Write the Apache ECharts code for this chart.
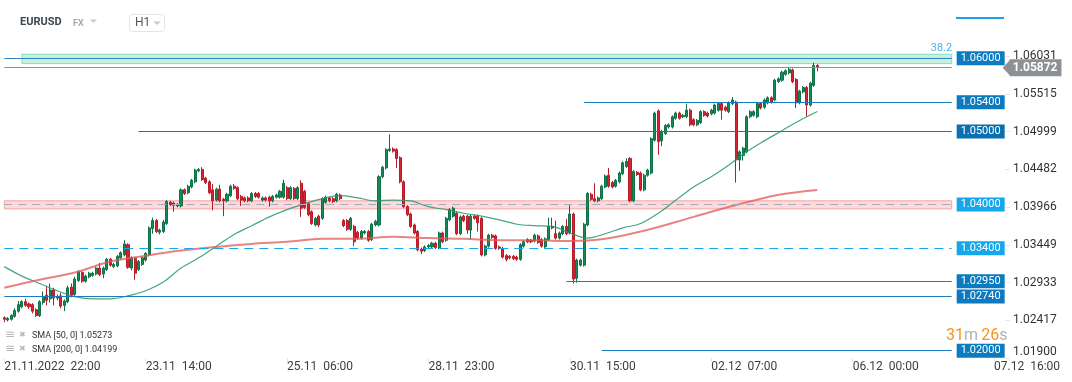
<!DOCTYPE html>
<html><head><meta charset="utf-8">
<script src="https://cdn.jsdelivr.net/npm/echarts@6/dist/echarts.min.js"></script>
<style>html,body{margin:0;padding:0;background:#fff}#c{width:1072px;height:382px}</style>
</head><body><div id="c"></div><script>
// ---- data (EURUSD H1) ----
const OPEN = [
1.0245,1.0242,1.0243,1.0247,1.0254,1.0260,1.0267,1.0264,1.0263,1.0256,
1.0248,1.0266,1.0276,1.0271,1.0283,1.0272,1.0275,1.0262,1.0267,1.0287,
1.0277,1.0296,1.0307,1.0295,1.0301,1.0303,1.0305,1.0313,1.0305,1.0311,
1.0325,1.0315,1.0316,1.0327,1.0331,1.0345,1.0313,1.0326,1.0311,1.0318,
1.0324,1.0331,1.0367,1.0378,1.0362,1.0363,1.0374,1.0403,1.0402,1.0398,
1.0398,1.0420,1.0416,1.0424,1.0431,1.0446,1.0448,1.0436,1.0431,1.0420,
1.0406,1.0421,1.0407,1.0405,1.0412,1.0425,1.0423,1.0411,1.0409,1.0409,
1.0405,1.0415,1.0415,1.0406,1.0409,1.0410,1.0405,1.0410,1.0410,1.0410,
1.0423,1.0408,1.0422,1.0408,1.0429,1.0418,1.0401,1.0390,1.0372,1.0384,
1.0381,1.0403,1.0409,1.0408,1.0405,1.0413,1.0378,1.0378,1.0366,1.0370,
1.0362,1.0354,1.0361,1.0363,1.0352,1.0372,1.0372,1.0438,1.0450,1.0474,
1.0476,1.0475,1.0464,1.0431,1.0397,1.0387,1.0372,1.0363,1.0339,1.0337,
1.0342,1.0342,1.0347,1.0341,1.0361,1.0351,1.0379,1.0384,1.0388,1.0360,
1.0384,1.0384,1.0365,1.0384,1.0384,1.0381,1.0331,1.0343,1.0358,1.0357,
1.0342,1.0340,1.0330,1.0329,1.0329,1.0328,1.0325,1.0343,1.0352,1.0351,
1.0350,1.0357,1.0352,1.0342,1.0352,1.0370,1.0360,1.0354,1.0360,1.0370,
1.0361,1.0387,1.0299,1.0317,1.0317,1.0372,1.0414,1.0408,1.0405,1.0408,
1.0424,1.0440,1.0430,1.0425,1.0431,1.0442,1.0452,1.0463,1.0405,1.0444,
1.0443,1.0420,1.0440,1.0443,1.0488,1.0528,1.0487,1.0497,1.0506,1.0506,
1.0518,1.0525,1.0520,1.0520,1.0529,1.0516,1.0509,1.0512,1.0527,1.0525,
1.0524,1.0525,1.0529,1.0538,1.0533,1.0527,1.0538,1.0540,1.0461,1.0467,
1.0472,1.0520,1.0522,1.0520,1.0538,1.0533,1.0539,1.0546,1.0543,1.0568,
1.0570,1.0578,1.0580,1.0584,1.0571,1.0539,1.0554,1.0560,1.0536,1.0563,
1.0590];
const CLOSE = [
1.0243,1.0244,1.0248,1.0255,1.0263,1.0267,1.0262,1.0260,1.0254,1.0248,
1.0267,1.0273,1.0269,1.0283,1.0272,1.0274,1.0261,1.0268,1.0286,1.0276,
1.0298,1.0308,1.0295,1.0302,1.0306,1.0306,1.0313,1.0304,1.0313,1.0325,
1.0317,1.0318,1.0329,1.0334,1.0346,1.0314,1.0327,1.0306,1.0322,1.0327,
1.0333,1.0368,1.0378,1.0363,1.0365,1.0376,1.0404,1.0400,1.0399,1.0400,
1.0420,1.0415,1.0425,1.0433,1.0447,1.0448,1.0434,1.0430,1.0416,1.0405,
1.0421,1.0405,1.0405,1.0414,1.0425,1.0422,1.0408,1.0406,1.0405,1.0405,
1.0415,1.0411,1.0410,1.0409,1.0406,1.0405,1.0411,1.0413,1.0418,1.0429,
1.0408,1.0423,1.0408,1.0423,1.0395,1.0396,1.0386,1.0374,1.0381,1.0372,
1.0408,1.0410,1.0405,1.0404,1.0414,1.0408,1.0371,1.0366,1.0381,1.0349,
1.0354,1.0363,1.0363,1.0351,1.0373,1.0377,1.0438,1.0451,1.0475,1.0476,
1.0473,1.0463,1.0431,1.0397,1.0386,1.0370,1.0361,1.0338,1.0336,1.0342,
1.0344,1.0347,1.0341,1.0361,1.0349,1.0381,1.0393,1.0395,1.0360,1.0383,
1.0378,1.0365,1.0384,1.0381,1.0375,1.0331,1.0343,1.0358,1.0355,1.0340,
1.0340,1.0328,1.0325,1.0327,1.0326,1.0325,1.0345,1.0349,1.0349,1.0349,
1.0358,1.0348,1.0343,1.0353,1.0370,1.0368,1.0354,1.0361,1.0370,1.0360,
1.0387,1.0298,1.0324,1.0324,1.0373,1.0415,1.0407,1.0405,1.0409,1.0425,
1.0439,1.0425,1.0424,1.0433,1.0443,1.0457,1.0459,1.0405,1.0445,1.0441,
1.0420,1.0440,1.0447,1.0490,1.0525,1.0486,1.0500,1.0508,1.0509,1.0520,
1.0525,1.0518,1.0522,1.0529,1.0509,1.0509,1.0515,1.0527,1.0522,1.0521,
1.0529,1.0536,1.0538,1.0529,1.0529,1.0539,1.0543,1.0461,1.0472,1.0477,
1.0520,1.0527,1.0527,1.0538,1.0532,1.0543,1.0546,1.0540,1.0570,1.0572,
1.0581,1.0583,1.0585,1.0568,1.0539,1.0555,1.0560,1.0536,1.0566,1.0590,
1.05872];
const LOW = [
1.0239,1.0240,1.0241,1.0245,1.0252,1.0258,1.0260,1.0257,1.0251,1.0246,
1.0246,1.0263,1.0262,1.0266,1.0262,1.0269,1.0258,1.0254,1.0265,1.0273,
1.0275,1.0294,1.0293,1.0293,1.0299,1.0301,1.0303,1.0302,1.0299,1.0309,
1.0315,1.0313,1.0314,1.0325,1.0329,1.0312,1.0310,1.0297,1.0309,1.0316,
1.0322,1.0329,1.0360,1.0361,1.0359,1.0361,1.0372,1.0398,1.0390,1.0396,
1.0396,1.0413,1.0414,1.0422,1.0429,1.0444,1.0432,1.0428,1.0414,1.0392,
1.0404,1.0403,1.0384,1.0403,1.0410,1.0420,1.0406,1.0398,1.0403,1.0403,
1.0403,1.0409,1.0408,1.0404,1.0404,1.0397,1.0403,1.0408,1.0408,1.0408,
1.0406,1.0406,1.0406,1.0406,1.0383,1.0394,1.0384,1.0372,1.0370,1.0369,
1.0379,1.0401,1.0403,1.0402,1.0403,1.0406,1.0369,1.0364,1.0364,1.0343,
1.0352,1.0352,1.0359,1.0349,1.0350,1.0370,1.0370,1.0436,1.0448,1.0472,
1.0471,1.0450,1.0429,1.0395,1.0384,1.0368,1.0359,1.0336,1.0332,1.0335,
1.0340,1.0340,1.0339,1.0339,1.0347,1.0349,1.0377,1.0382,1.0358,1.0358,
1.0376,1.0360,1.0352,1.0379,1.0363,1.0329,1.0329,1.0341,1.0353,1.0338,
1.0338,1.0326,1.0322,1.0325,1.0324,1.0323,1.0323,1.0341,1.0347,1.0347,
1.0348,1.0346,1.0341,1.0340,1.0350,1.0366,1.0352,1.0352,1.0358,1.0358,
1.0359,1.0292,1.0293,1.0315,1.0315,1.0370,1.0405,1.0403,1.0403,1.0406,
1.0422,1.0423,1.0422,1.0423,1.0429,1.0440,1.0450,1.0403,1.0403,1.0439,
1.0418,1.0418,1.0438,1.0441,1.0486,1.0468,1.0480,1.0495,1.0504,1.0504,
1.0516,1.0516,1.0518,1.0518,1.0507,1.0507,1.0507,1.0510,1.0520,1.0519,
1.0522,1.0523,1.0527,1.0516,1.0527,1.0525,1.0536,1.0430,1.0446,1.0460,
1.0470,1.0518,1.0520,1.0518,1.0530,1.0531,1.0537,1.0538,1.0541,1.0566,
1.0568,1.0576,1.0578,1.0566,1.0532,1.0537,1.0552,1.0520,1.0534,1.0561,
1.0582];
const HIGH = [
1.0247,1.0246,1.0250,1.0258,1.0268,1.0269,1.0271,1.0266,1.0265,1.0258,
1.0269,1.0281,1.0288,1.0292,1.0286,1.0277,1.0279,1.0270,1.0289,1.0292,
1.0301,1.0310,1.0309,1.0304,1.0308,1.0308,1.0315,1.0320,1.0315,1.0327,
1.0327,1.0320,1.0331,1.0336,1.0351,1.0347,1.0329,1.0328,1.0324,1.0329,
1.0335,1.0370,1.0382,1.0380,1.0367,1.0379,1.0406,1.0405,1.0404,1.0402,
1.0422,1.0422,1.0427,1.0435,1.0449,1.0450,1.0451,1.0438,1.0433,1.0428,
1.0423,1.0427,1.0409,1.0416,1.0427,1.0428,1.0425,1.0413,1.0411,1.0411,
1.0417,1.0417,1.0417,1.0411,1.0411,1.0412,1.0413,1.0415,1.0420,1.0434,
1.0425,1.0425,1.0424,1.0425,1.0433,1.0420,1.0403,1.0392,1.0383,1.0386,
1.0410,1.0412,1.0411,1.0410,1.0416,1.0415,1.0380,1.0380,1.0383,1.0372,
1.0364,1.0365,1.0365,1.0365,1.0375,1.0379,1.0440,1.0453,1.0477,1.0496,
1.0478,1.0477,1.0466,1.0433,1.0399,1.0389,1.0374,1.0365,1.0341,1.0344,
1.0346,1.0349,1.0349,1.0363,1.0363,1.0383,1.0395,1.0397,1.0390,1.0385,
1.0386,1.0386,1.0386,1.0386,1.0386,1.0383,1.0345,1.0360,1.0360,1.0359,
1.0344,1.0342,1.0332,1.0331,1.0331,1.0330,1.0347,1.0351,1.0354,1.0353,
1.0360,1.0359,1.0354,1.0355,1.0382,1.0382,1.0378,1.0363,1.0372,1.0380,
1.0399,1.0389,1.0326,1.0326,1.0375,1.0417,1.0416,1.0429,1.0411,1.0427,
1.0441,1.0450,1.0432,1.0435,1.0445,1.0459,1.0463,1.0465,1.0447,1.0446,
1.0445,1.0442,1.0449,1.0492,1.0527,1.0530,1.0502,1.0510,1.0511,1.0522,
1.0527,1.0527,1.0524,1.0538,1.0531,1.0518,1.0517,1.0529,1.0529,1.0527,
1.0531,1.0538,1.0540,1.0540,1.0535,1.0541,1.0547,1.0542,1.0474,1.0479,
1.0522,1.0529,1.0529,1.0540,1.0540,1.0545,1.0548,1.0548,1.0572,1.0574,
1.0583,1.0585,1.0587,1.0586,1.0573,1.0557,1.0562,1.0562,1.0568,1.0594,
1.0592];

// SMA readings (bar index -> value)
const SMA50_IDX = [0,5,10,15,20,25,30,35,40,45,50,55,60,65,70,75,80,85,90,95,100,105,110,115,120,125,130,135,140,145,150,155,160,165,170,175,180,185,190,195,200,205,210,215,220,225,230];
const SMA50 = [1.0315,1.0302,1.0292,1.0282,1.0274,1.0271,1.0271,1.0275,1.0282,1.0294,1.0313,1.0327,1.0343,1.0359,1.0371,1.0383,1.0393,1.0401,1.0408,1.0412,1.0409,1.0405,1.0406,1.0405,1.0397,1.0393,1.0388,1.0384,1.0379,1.0373,1.0371,1.0370,1.0361,1.0354,1.0360,1.0368,1.0374,1.0388,1.0406,1.0424,1.0438,1.0454,1.0472,1.0487,1.0501,1.0515,1.05273];
const SMA200_IDX = [0,10,20,30,40,50,60,70,80,90,100,110,120,130,140,150,160,170,180,190,200,210,220,230];
const SMA200 = [1.0286,1.0297,1.0307,1.0322,1.0330,1.0337,1.0342,1.0346,1.0349,1.0353,1.0353,1.0356,1.0354,1.0353,1.0351,1.0351,1.0350,1.0353,1.0363,1.0376,1.0390,1.0403,1.0414,1.04199];

// horizontal levels: price and first bar index
const LEVEL_PRICE = [1.06, 1.054, 1.05, 1.04, 1.034, 1.0295, 1.0274, 1.02];
const LEVEL_START = [0, 164, 38, 0, 0, 159, 0, 169];
const FIB_ZONE = [1.06055, 1.05927];   // 38.2 zone
const FIB_ZONE_START = 5;
const SUPPORT_ZONE = [1.0405, 1.0394];

const Y_TICK_LABELS = ['1.01900','1.02417','1.02933','1.03449','1.03966','1.04482','1.04999','1.05515','1.06031'];
const X_TICK_LABELS = ['21.11.2022  22:00','23.11  14:00','25.11  06:00','28.11  23:00','30.11  15:00','02.12  07:00','06.12  00:00','07.12  16:00'];
const X_TICK_EVERY = 40;

// ---- layout / style ----
const N_CAT = 302, LEVEL_END = 268;
const Y_MIN = 1.019, Y_MAX = 1.0625;
const Y_BASE = parseFloat(Y_TICK_LABELS[0]);
const Y_STEP = (parseFloat(Y_TICK_LABELS[Y_TICK_LABELS.length-1]) - Y_BASE) / (Y_TICK_LABELS.length-1);
const GREEN = '#138a57', RED = '#d8222f';
const DARK = '#0b7cc2', LIGHT = '#15a7ec', FONT = 'Roboto';
const LEVEL_STYLE = [
  {line:'#2a86c6', type:'solid', box:'#0b7cc2'},
  {line:'#1b7bbf', type:'solid', box:'#0b7abf'},
  {line:'#1b74b5', type:'solid', box:'#0a70b0'},
  {line:'#a3abc4', type:[8,6], box:LIGHT},
  {line:LIGHT, type:[9,6], box:LIGHT},
  {line:'#1b7bbf', type:'solid', box:'#0b7abf'},
  {line:'#1b7bbf', type:'solid', box:'#0b7abf'},
  {line:'#1b7bbf', type:'solid', box:'#0b7abf'}
];

const categories = Array.from({length:N_CAT}, (_, i) => String(i));
const candles = OPEN.map((o, i) => [o, CLOSE[i], LOW[i], HIGH[i]]);
const lastClose = CLOSE[CLOSE.length-1];

const levelLines = LEVEL_PRICE.map((p, i) => [
  {coord:[LEVEL_START[i], p],
   lineStyle:{color:LEVEL_STYLE[i].line, type:LEVEL_STYLE[i].type, width:1.2},
   label:{show:true, position:'end', distance:5, formatter:p.toFixed(5), color:'#fff',
          backgroundColor:LEVEL_STYLE[i].box, padding:[2,4,1,4], fontSize:11, fontFamily:FONT}},
  {coord:[LEVEL_END, p]}
]);
levelLines.push([
  {coord:[0, lastClose], lineStyle:{color:'#8d9196', type:'solid', width:1},
   label:{show:true, position:'end', distance:58, formatter:lastClose.toFixed(5), color:'#fff',
          backgroundColor:'#8d9196', padding:[3,4,2,3], fontSize:12, fontWeight:'bold', fontFamily:FONT}},
  {coord:[LEVEL_END, lastClose]}
]);

const chart = echarts.init(document.getElementById('c'), null, {renderer:'canvas'});
chart.setOption({
  animation:false,
  backgroundColor:'#fff',
  textStyle:{fontFamily:FONT},
  grid:{left:2.5, right:1.9, top:40, bottom:24, containLabel:false},
  xAxis:{
    type:'category', data:categories, boundaryGap:true,
    axisLine:{show:false},
    axisTick:{show:true, alignWithLabel:true, interval:X_TICK_EVERY-1, length:4, lineStyle:{color:'#e3e3e3'}},
    axisLabel:{interval:X_TICK_EVERY-1, align:'left', margin:3, fontSize:12, color:'#3d3d3d', fontFamily:FONT,
      formatter:(v, idx) => X_TICK_LABELS[Math.round(idx / X_TICK_EVERY)] || ''},
    splitLine:{show:false}
  },
  yAxis:[
    {type:'value', min:Y_MIN, max:Y_MAX, show:false, splitLine:{show:false}},
    {type:'value', position:'right', offset:-60,
     min:(Y_MIN - Y_BASE) / Y_STEP, max:(Y_MAX - Y_BASE) / Y_STEP, interval:1,
     axisLine:{show:false},
     axisTick:{show:true, inside:true, length:5, lineStyle:{color:'#e6e6e6'}},
     splitLine:{show:false},
     axisLabel:{margin:3, fontSize:12, color:'#333', fontFamily:FONT, showMaxLabel:false,
       formatter:v => {
         const k = Math.round(v);
         if (Math.abs(v - k) > 1e-6 || k < 0 || k >= Y_TICK_LABELS.length) return '';
         return k === 0 ? '{low|' + Y_TICK_LABELS[0] + '}' : Y_TICK_LABELS[k];
       },
       rich:{low:{padding:[0,0,12,0], fontSize:12, color:'#333', fontFamily:FONT}}}
    }
  ],
  series:[
    {type:'candlestick', name:'EURUSD', data:candles, barWidth:'72%', z:2,
     itemStyle:{color:GREEN, color0:RED, borderColor:'#0f7148', borderColor0:'#b81c28', borderWidth:1}},
    {type:'line', name:'SMA50', data:SMA50_IDX.map((x, i) => [x, SMA50[i]]), symbol:'none', smooth:0.35, z:3,
     lineStyle:{color:'#24976a', width:1.2, opacity:0.85}},
    {type:'line', name:'SMA200', data:SMA200_IDX.map((x, i) => [x, SMA200[i]]), symbol:'none', smooth:0.35, z:3,
     lineStyle:{color:'#e25a5a', width:2, opacity:0.75}},
    {type:'line', name:'levels', data:[], z:4, silent:true,
     markLine:{symbol:['none','none'], silent:true, animation:false, data:levelLines},
     markPoint:{silent:true, animation:false, data:[
       {coord:[LEVEL_END, lastClose], symbol:'triangle', symbolSize:[17,8], symbolRotate:90, symbolOffset:[55,0],
        itemStyle:{color:'#8d9196'}, label:{show:false}}]}},
    {type:'line', name:'zones', data:[], z:5, silent:true,
     markArea:{silent:true, animation:false, data:[
       [{coord:[FIB_ZONE_START, FIB_ZONE[0]],
         itemStyle:{color:'rgba(130,222,185,0.45)', borderColor:'#86dcbd', borderWidth:1},
         label:{show:true, position:['100%', 0], align:'right', verticalAlign:'bottom', formatter:'38.2',
                color:'#4ab2ea', fontSize:11, fontFamily:FONT, distance:0}},
        {coord:[LEVEL_END, FIB_ZONE[1]]}],
       [{coord:[0, SUPPORT_ZONE[0]],
         itemStyle:{color:'rgba(250,170,170,0.45)', borderColor:'#f3a5a5', borderWidth:1},
         label:{show:false}},
        {coord:[LEVEL_END, SUPPORT_ZONE[1]]}]
     ]}}
  ],
  graphic:[
    {type:'text', left:20, top:17, style:{text:'EURUSD', font:'bold 11px Roboto', fill:'#3c4650'}},
    {type:'text', left:73, top:19, style:{text:'FX', font:'bold 9px Roboto', fill:'#a3abb3'}},
    {type:'polygon', shape:{points:[[90,19.5],[97,19.5],[93.5,23]]}, style:{fill:'#c8cdd2'}},
    {type:'rect', shape:{x:129.5, y:14.5, width:35, height:17, r:3}, style:{fill:'#fff', stroke:'#e1e4e8', lineWidth:1}},
    {type:'text', left:135, top:17, style:{text:'H1', font:'12px Roboto', fill:'#4d5863'}},
    {type:'polygon', shape:{points:[[153,21.5],[161,21.5],[157,25]]}, style:{fill:'#c8cdd2'}},
    {type:'rect', shape:{x:956, y:17, width:48, height:2}, style:{fill:'#1c9fe4'}},
    {type:'text', left:946, top:328, style:{text:'{o|31}{g|m} {o|26}{g|s}',
      rich:{o:{fill:'#f7941d', fontSize:16, fontFamily:FONT}, g:{fill:'#aeb2b6', fontSize:16, fontFamily:FONT}}}},
    {type:'text', left:5, top:329, style:{text:'≡', font:'12px DejaVu Sans', fill:'#b9b9b9'}},
    {type:'text', left:19, top:331, style:{text:'✖', font:'8px DejaVu Sans', fill:'#b9b9b9'}},
    {type:'text', left:32, top:331, style:{text:'SMA [50, 0] ' + SMA50[SMA50.length-1].toFixed(5), font:'9px Roboto', fill:'#333'}},
    {type:'text', left:5, top:343, style:{text:'≡', font:'12px DejaVu Sans', fill:'#b9b9b9'}},
    {type:'text', left:19, top:345, style:{text:'✖', font:'8px DejaVu Sans', fill:'#b9b9b9'}},
    {type:'text', left:32, top:345, style:{text:'SMA [200, 0] ' + SMA200[SMA200.length-1].toFixed(5), font:'9px Roboto', fill:'#333'}}
  ]
});
</script></body></html>
